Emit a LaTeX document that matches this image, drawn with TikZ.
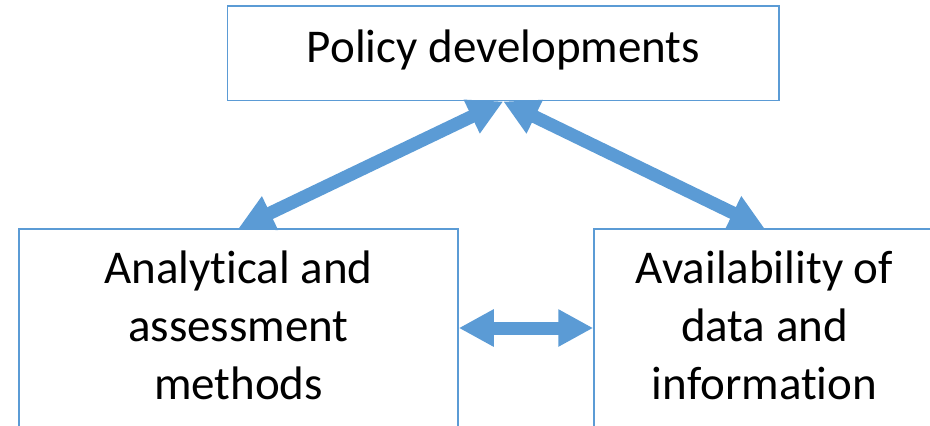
\documentclass[tikz,border=0pt]{standalone}
\usepackage{fontspec}
\setmainfont[Ligatures=NoCommon]{Carlito}
\usetikzlibrary{arrows.meta}
\definecolor{accblue}{RGB}{91,155,213}
\tikzset{
  boxshape/.style={draw=accblue, line width=1.5pt, fill=white, inner sep=0pt, rectangle},
  label/.style={font=\fontsize{47}{58}\selectfont, anchor=base, inner sep=0pt, text=black},
  bigarrow/.style={draw=accblue, line width=13pt, {Triangle[length=35pt,width=35pt]}-{Triangle[length=35pt,width=35pt]}, shorten <=0pt, shorten >=0pt}
}
\begin{document}
\begin{tikzpicture}[x=1pt,y=-1pt]
\useasboundingbox (0,0) rectangle (930,426);
\clip (0,0) rectangle (930,426);
% boxes
\node[boxshape, minimum width=551.5pt, minimum height=94.7pt] (top) at (503.25,53.35) {};
\node[boxshape, minimum width=439pt, minimum height=240pt] (lbox) at (238.5,349) {};
\node[boxshape, minimum width=341pt, minimum height=240pt] (rbox) at (764.5,349) {};
% texts
\node[label] (ttop) at (503.5,62) {Policy developments};
\node[label] (tl1) at (238.5,283) {Analytical and};
\node[label] (tl2) at (238.5,341) {assessment};
\node[label] (tl3) at (238.5,399) {methods};
\node[label] (tr1) at (764.5,283) {Availability of};
\node[label] (tr2) at (764.5,341) {data and};
\node[label] (tr3) at (764.5,399) {information};
% connectors
\coordinate (mid) at (526,328);
\draw[bigarrow] (lbox.north) -- (top.south);
\draw[bigarrow] (top.south) -- (rbox.north);
\draw[bigarrow] (lbox.east |- mid) -- (rbox.west |- mid);
\end{tikzpicture}
\end{document}
